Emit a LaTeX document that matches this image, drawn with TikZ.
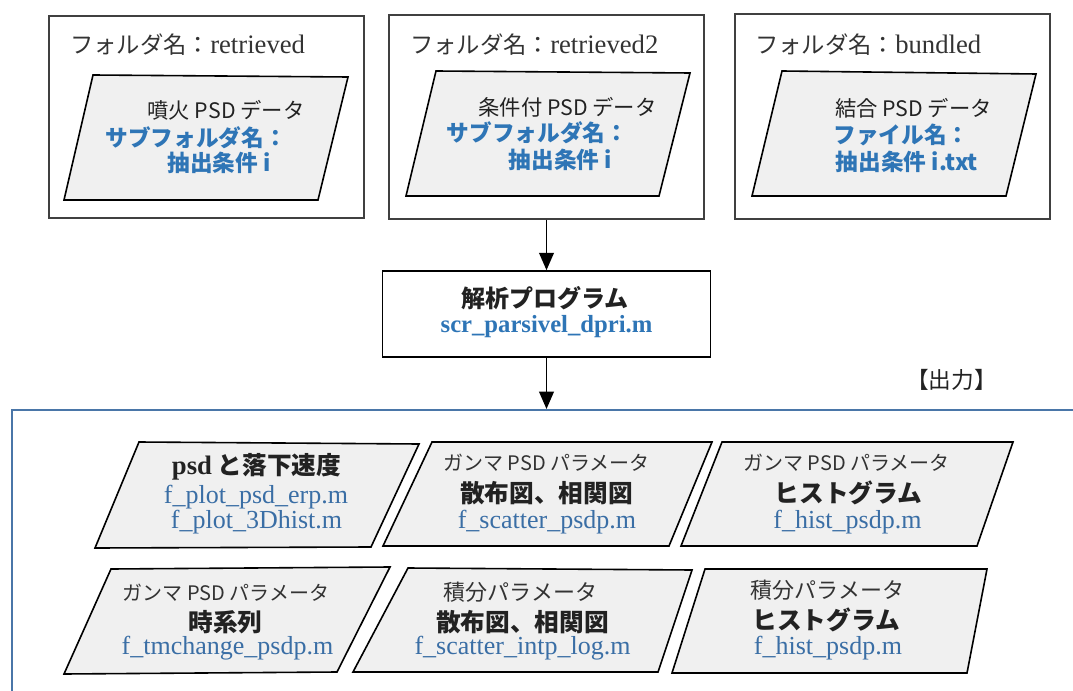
\documentclass[tikz,border=0pt]{standalone}
\usepackage{fontspec}
\setmainfont{Liberation Serif}
\newfontfamily\jp{Noto Sans CJK JP}
\usetikzlibrary{arrows.meta}
\definecolor{tblue}{HTML}{2E75B6}
\definecolor{fblue}{HTML}{3A6EA5}
\definecolor{frameblue}{HTML}{4A76A8}
\definecolor{pfill}{HTML}{F0F0F0}
\definecolor{dtext}{HTML}{222222}
\definecolor{gtext}{HTML}{333333}
\begin{document}
\begin{tikzpicture}[x=0.75pt,y=-0.75pt,
  folder/.style={draw=black!75, line width=0.9pt, inner sep=0pt},
  progbox/.style={draw=black, line width=1.2pt, inner sep=0pt, fill=white},
  para/.style={draw=black, line width=1.2pt, fill=pfill},
  arr/.style={-{Triangle[length=13pt,width=11pt]}, line width=1.3pt},
  lbl/.style={inner sep=0pt, anchor=center},
  ttl/.style={inner sep=0pt, anchor=west, text=gtext},
  pline/.style={lbl, text=dtext, font=\jp\fontsize{16pt}{19pt}\selectfont},
  bline/.style={lbl, text=tblue, font=\jp\bfseries\fontsize{17pt}{20pt}\selectfont},
  hbold/.style={lbl, text=dtext, font=\jp\bfseries\fontsize{18.5pt}{22pt}\selectfont},
  hsmall/.style={lbl, text=gtext, font=\jp\fontsize{15pt}{18pt}\selectfont},
  hmid/.style={lbl, text=gtext, font=\jp\fontsize{16.5pt}{19pt}\selectfont},
  fname/.style={lbl, text=fblue, font=\fontsize{19.5pt}{23pt}\selectfont},
]
\useasboundingbox (0,0) rectangle (1073,691);

% ---- folder boxes
\node[folder, minimum width=315*0.75pt, minimum height=202*0.75pt] (f1) at (206.5,117) {};
\node[folder, minimum width=315*0.75pt, minimum height=204*0.75pt] (f2) at (546.5,117) {};
\node[folder, minimum width=315*0.75pt, minimum height=205*0.75pt] (f3) at (892.5,116.5) {};

\node[ttl] (t1) at (70,45) {{\jp\fontsize{17.5pt}{20pt}\selectfont フォルダ名：}\fontsize{20pt}{24pt}\selectfont retrieved};
\node[ttl] (t2) at (410,45) {{\jp\fontsize{17.5pt}{20pt}\selectfont フォルダ名：}\fontsize{20pt}{24pt}\selectfont retrieved2};
\node[ttl] (t3) at (755,45) {{\jp\fontsize{17.5pt}{20pt}\selectfont フォルダ名：}\fontsize{20pt}{24pt}\selectfont bundled};

% ---- inner parallelograms (top)
\draw[para] (93,75) -- (348,77) -- (318,200) -- (64,200) -- cycle;
\draw[para] (436,71) -- (690,73) -- (659,196) -- (406,196) -- cycle;
\draw[para] (782,71) -- (1036,74) -- (1006,196) -- (752,196) -- cycle;

\node[pline] (p1a) at (226,110) {噴火 PSD データ};
\node[bline] (p1b) at (196,138) {サブフォルダ名：};
\node[bline] (p1c) at (219,163) {抽出条件 i};

\node[pline] (p2a) at (567.5,107) {条件付 PSD データ};
\node[bline] (p2b) at (537.5,133) {サブフォルダ名：};
\node[bline] (p2c) at (560.5,160) {抽出条件 i};

\node[pline] (p3a) at (913.5,108) {結合 PSD データ};
\node[bline] (p3b) at (901.5,135) {ファイル名：};
\node[bline] (p3c) at (907,162) {抽出条件 i.txt};

% ---- program box
\node[progbox, minimum width=328*0.75pt, minimum height=86*0.75pt] (prog) at (546.5,314) {};
\node[lbl, text=dtext, font=\jp\bfseries\fontsize{18pt}{21pt}\selectfont] (progA) at (545,298) {解析プログラム};
\node[lbl, text=tblue, font=\bfseries\fontsize{18.5pt}{22pt}\selectfont] (progB) at (546.5,327) {scr\_parsivel\_dpri.m};

% ---- output frame
\draw[frameblue, line width=1.9pt] (12,691) -- (12,410) -- (1073,410);
\coordinate (outtop) at (546.5,409);
\node[lbl, text=dtext, font=\jp\fontsize{17pt}{20pt}\selectfont] (outlbl) at (951.5,380) {【出力】};

% ---- connectors
\draw[arr] (f2.south) -- (prog.north);
\draw[arr] (prog.south) -- (outtop);

% ---- output parallelograms
\draw[para] (139,442) -- (419,444) -- (371,547) -- (95,548) -- cycle;
\draw[para] (432,442) -- (712,442) -- (669,546) -- (383,546) -- cycle;
\draw[para] (722,442) -- (1013,442) -- (977,546) -- (681,546) -- cycle;
\draw[para] (111,569) -- (390,567) -- (337,672) -- (64,674) -- cycle;
\draw[para] (408,568) -- (692,570) -- (658,672) -- (353,672) -- cycle;
\draw[para] (705,569) -- (987,569) -- (967,673) -- (672,673) -- cycle;

\node[hbold] (q1a) at (256.5,467) {{\fontspec{Liberation Serif}\bfseries\fontsize{20pt}{24pt}\selectfont psd} と落下速度};
\node[fname] (q1b) at (256,497) {f\_plot\_psd\_erp.m};
\node[fname] (q1c) at (256.5,522) {f\_plot\_3Dhist.m};

\node[hsmall] (q2a) at (546.5,463) {ガンマ PSD パラメータ};
\node[hbold] (q2b) at (546.5,493) {散布図、相関図};
\node[fname] (q2c) at (547,522) {f\_scatter\_psdp.m};

\node[hsmall] (q3a) at (846.5,463) {ガンマ PSD パラメータ};
\node[hbold] (q3b) at (848.5,493) {ヒストグラム};
\node[fname] (q3c) at (847.5,522) {f\_hist\_psdp.m};

\node[hsmall] (q4a) at (226,593) {ガンマ PSD パラメータ};
\node[hbold] (q4b) at (225.5,622) {時系列};
\node[fname] (q4c) at (227.5,648) {f\_tmchange\_psdp.m};

\node[hmid] (q5a) at (520.5,592) {積分パラメータ};
\node[hbold] (q5b) at (522.5,622) {散布図、相関図};
\node[fname] (q5c) at (522.5,648) {f\_scatter\_intp\_log.m};

\node[hmid] (q6a) at (827.5,590) {積分パラメータ};
\node[hbold] (q6b) at (826,620) {ヒストグラム};
\node[fname] (q6c) at (828,648) {f\_hist\_psdp.m};
\end{tikzpicture}
\end{document}
